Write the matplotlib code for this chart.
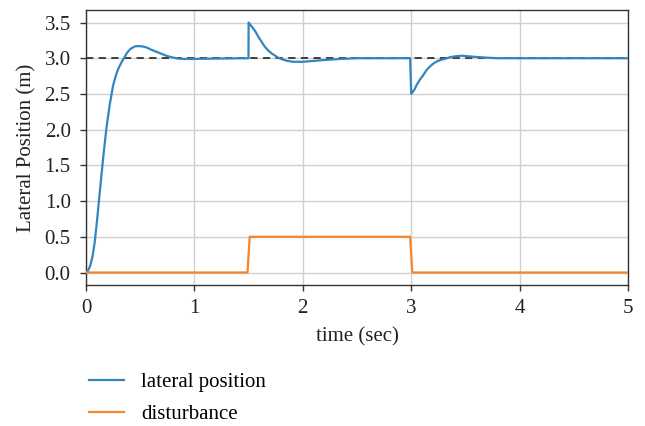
import matplotlib
matplotlib.use("Agg")
import matplotlib.pyplot as plt

# lateral position
t_pos = [0.00, 0.02, 0.04, 0.06, 0.08, 0.10, 0.13, 0.16, 0.19, 0.22, 0.25, 0.28,
         0.30, 0.33, 0.35, 0.38, 0.41, 0.45, 0.48, 0.52, 0.56, 0.60, 0.65, 0.70,
         0.75, 0.80, 0.85, 0.90, 1.00, 1.20, 1.499, 1.50, 1.53, 1.56, 1.59, 1.62,
         1.65, 1.68, 1.71, 1.74, 1.77, 1.80, 1.85, 1.91, 2.00, 2.08, 2.16, 2.25,
         2.35, 2.50, 2.99, 3.00, 3.03, 3.05, 3.08, 3.11, 3.14, 3.17, 3.20, 3.23,
         3.27, 3.31, 3.36, 3.42, 3.47, 3.51, 3.58, 3.67, 3.80, 5.00]
pos = [0.00, 0.03, 0.10, 0.22, 0.42, 0.70, 1.17, 1.63, 2.04, 2.36, 2.62, 2.78,
       2.86, 2.95, 3.00, 3.08, 3.13, 3.165, 3.17, 3.165, 3.15, 3.12, 3.09, 3.06,
       3.03, 3.01, 2.995, 2.99, 2.99, 2.995, 3.00, 3.50, 3.44, 3.38, 3.30, 3.23,
       3.16, 3.11, 3.07, 3.04, 3.01, 2.99, 2.965, 2.95, 2.95, 2.96, 2.97, 2.98,
       2.99, 3.00, 3.00, 2.50, 2.56, 2.625, 2.70, 2.76, 2.83, 2.88, 2.92, 2.95,
       2.975, 2.99, 3.015, 3.03, 3.035, 3.03, 3.02, 3.01, 3.00, 3.00]

# disturbance
t_dist = [0.0, 1.49, 1.51, 2.99, 3.01, 5.0]
dist = [0.0, 0.0, 0.5, 0.5, 0.0, 0.0]

reference = 3.0
x_ticks = [0, 1, 2, 3, 4, 5]
y_ticks = [0.0, 0.5, 1.0, 1.5, 2.0, 2.5, 3.0, 3.5]

plt.rcParams['font.family'] = ['Liberation Serif', 'DejaVu Serif']
plt.rcParams['font.size'] = 15

fig = plt.figure(figsize=(6.45, 4.26), dpi=100)
ax = fig.add_axes([86/645, 1-285/426, (628-86)/645, (285-10)/426])

ax.axhline(reference, color='#333333', linestyle=(0, (4, 3)), linewidth=1.3, zorder=1)
ax.plot(t_pos, pos, color='#3385c0', linewidth=1.6, label='lateral position', zorder=3)
ax.plot(t_dist, dist, color='#f5862a', linewidth=1.6, label='disturbance', zorder=3)

ax.set_xlim(0, 5)
ax.set_xticks(x_ticks)
ax.set_yticks(y_ticks)
ax.set_yticklabels([f"{v:.1f}" for v in y_ticks])
ax.grid(True, color='#d0d0d0', linewidth=1.0)
ax.set_axisbelow(True)
for s in ax.spines.values():
    s.set_color('#333333')
    s.set_linewidth(1.0)
ax.tick_params(direction='out', length=4, width=1, color='#333333', labelcolor='#222222')
ax.tick_params(axis='y', pad=7)
ax.tick_params(axis='x', pad=6)
ax.set_xlabel('time (sec)', color='#222222', labelpad=7)
ax.set_ylabel('Lateral Position (m)', color='#222222', labelpad=6)

fig.legend(loc='upper left', bbox_to_anchor=(70/645, 1-354/426), frameon=False,
           handlelength=1.7, handletextpad=0.8, labelspacing=0.6)

fig.savefig('out.png', dpi=100)
